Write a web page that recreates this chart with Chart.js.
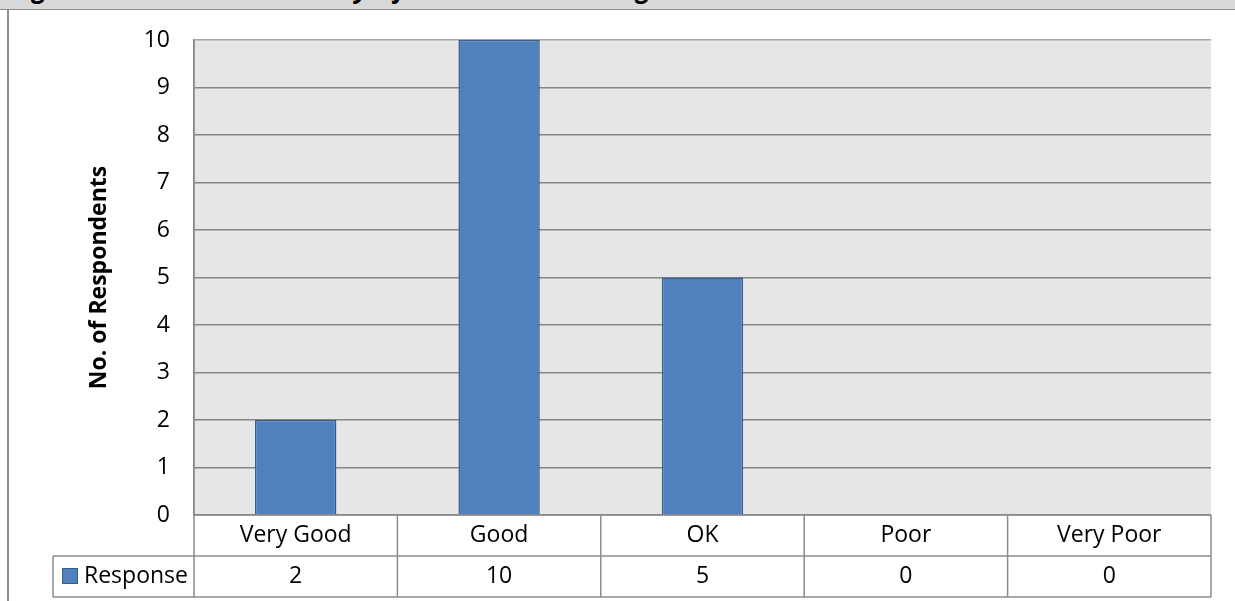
<!DOCTYPE html>
<html>
<head>
<meta charset="utf-8">
<script src="https://cdn.jsdelivr.net/npm/chart.js@4.4.1/dist/chart.umd.min.js"></script>
<style>
  html, body { margin: 0; padding: 0; background: #fff; }
  #wrap { position: relative; width: 1235px; height: 601px; overflow: hidden; }
  #band { position: absolute; left: 0; top: 0; width: 1235px; height: 9px; background: #d9d9d9;
          border-bottom: 1.5px solid #8c8c8c; overflow: hidden; }
  #band span { position: absolute; left: 8px; bottom: 3px; white-space: nowrap; letter-spacing: 1.5px;
               font: italic bold 26px "Open Sans", sans-serif; color: #000; }
  #edge { position: absolute; left: 7px; top: 10px; width: 1.5px; height: 600px; background: #8c8c8c; }
  canvas { position: absolute; left: 0; top: 0; }
</style>
</head>
<body>
<div id="wrap">
  <div id="band"><span>Figure 10: Overall Delivery of the Core Training</span></div>
  <div id="edge"></div>
  <canvas id="chart" width="1235" height="601"></canvas>
</div>
<script>
const categories = ['Very Good', 'Good', 'OK', 'Poor', 'Very Poor'];
const responses = [2, 10, 5, 0, 0];
const seriesName = 'Response';
const yTicks = [0, 1, 2, 3, 4, 5, 6, 7, 8, 9, 10];

const lineCol = '#8c8c8c';
const barCol = '#4f81bd';
const font = '"Open Sans", sans-serif';

// plot background + excel style data table under the axis
const tablePlugin = {
  id: 'dataTable',
  beforeDraw(chart) {
    const { ctx, chartArea: a } = chart;
    ctx.save();
    ctx.fillStyle = '#e6e6e6';
    ctx.fillRect(a.left, a.top, a.width, a.height);
    ctx.restore();
  },
  afterDraw(chart) {
    const { ctx, chartArea: a, scales: { x } } = chart;
    const rowH = 41;
    const y0 = a.bottom, y1 = y0 + rowH, y2 = y1 + rowH;
    const keyLeft = 53;
    const colW = a.width / categories.length;
    ctx.save();
    ctx.strokeStyle = lineCol;
    ctx.lineWidth = 1.5;
    ctx.beginPath();
    ctx.moveTo(a.left, y0); ctx.lineTo(a.right, y0);
    ctx.moveTo(keyLeft, y1); ctx.lineTo(a.right, y1);
    ctx.moveTo(keyLeft, y2); ctx.lineTo(a.right, y2);
    ctx.moveTo(keyLeft, y1); ctx.lineTo(keyLeft, y2);
    ctx.moveTo(a.left, a.top); ctx.lineTo(a.left, y2);
    categories.forEach((c, i) => {
      const r = x.getPixelForValue(i) + colW / 2;
      ctx.moveTo(r, y0); ctx.lineTo(r, y2);
    });
    ctx.stroke();

    ctx.fillStyle = '#000';
    ctx.font = '23px ' + font;
    ctx.textAlign = 'center';
    ctx.textBaseline = 'middle';
    categories.forEach((c, i) => {
      const cx = x.getPixelForValue(i);
      ctx.fillText(c, cx, (y0 + y1) / 2);
      ctx.fillText(String(responses[i]), cx, (y1 + y2) / 2);
    });

    // legend key
    ctx.fillStyle = barCol;
    ctx.fillRect(62, y1 + 12, 16, 16);
    ctx.strokeStyle = '#385d8a';
    ctx.lineWidth = 1;
    ctx.strokeRect(62.5, y1 + 12.5, 15, 15);
    ctx.fillStyle = '#000';
    ctx.textAlign = 'left';
    ctx.fillText(seriesName, 84, (y1 + y2) / 2);
    ctx.restore();
  }
};

new Chart(document.getElementById('chart'), {
  type: 'bar',
  data: {
    labels: categories,
    datasets: [{
      label: seriesName,
      data: responses,
      backgroundColor: barCol,
      borderColor: '#385d8a',
      borderWidth: 1.5,
      categoryPercentage: 1,
      barPercentage: 0.4
    }]
  },
  options: {
    responsive: false,
    animation: false,
    layout: { padding: { left: 0, top: 40, right: 24, bottom: 86 } },
    plugins: { legend: { display: false }, tooltip: { enabled: false } },
    scales: {
      x: { display: false },
      y: {
        min: 0, max: 10,
        afterFit(s) { s.width = 194; },
        afterBuildTicks(s) { s.ticks = yTicks.map(v => ({ value: v })); },
        ticks: { color: '#000', padding: 24, font: { family: font, size: 23 } },
        grid: {
          drawTicks: false,
          color: c => c.tick && c.tick.value === 10 ? '#a6a6a6' : '#868686',
          lineWidth: 1.5
        },
        border: { display: true, color: lineCol, width: 1.5 },
        title: {
          display: true,
          text: 'No. of Respondents',
          color: '#000',
          font: { family: font, size: 23, weight: 'bold' },
          padding: { top: 86, bottom: 0 }
        }
      }
    }
  },
  plugins: [tablePlugin]
});
</script>
</body>
</html>
